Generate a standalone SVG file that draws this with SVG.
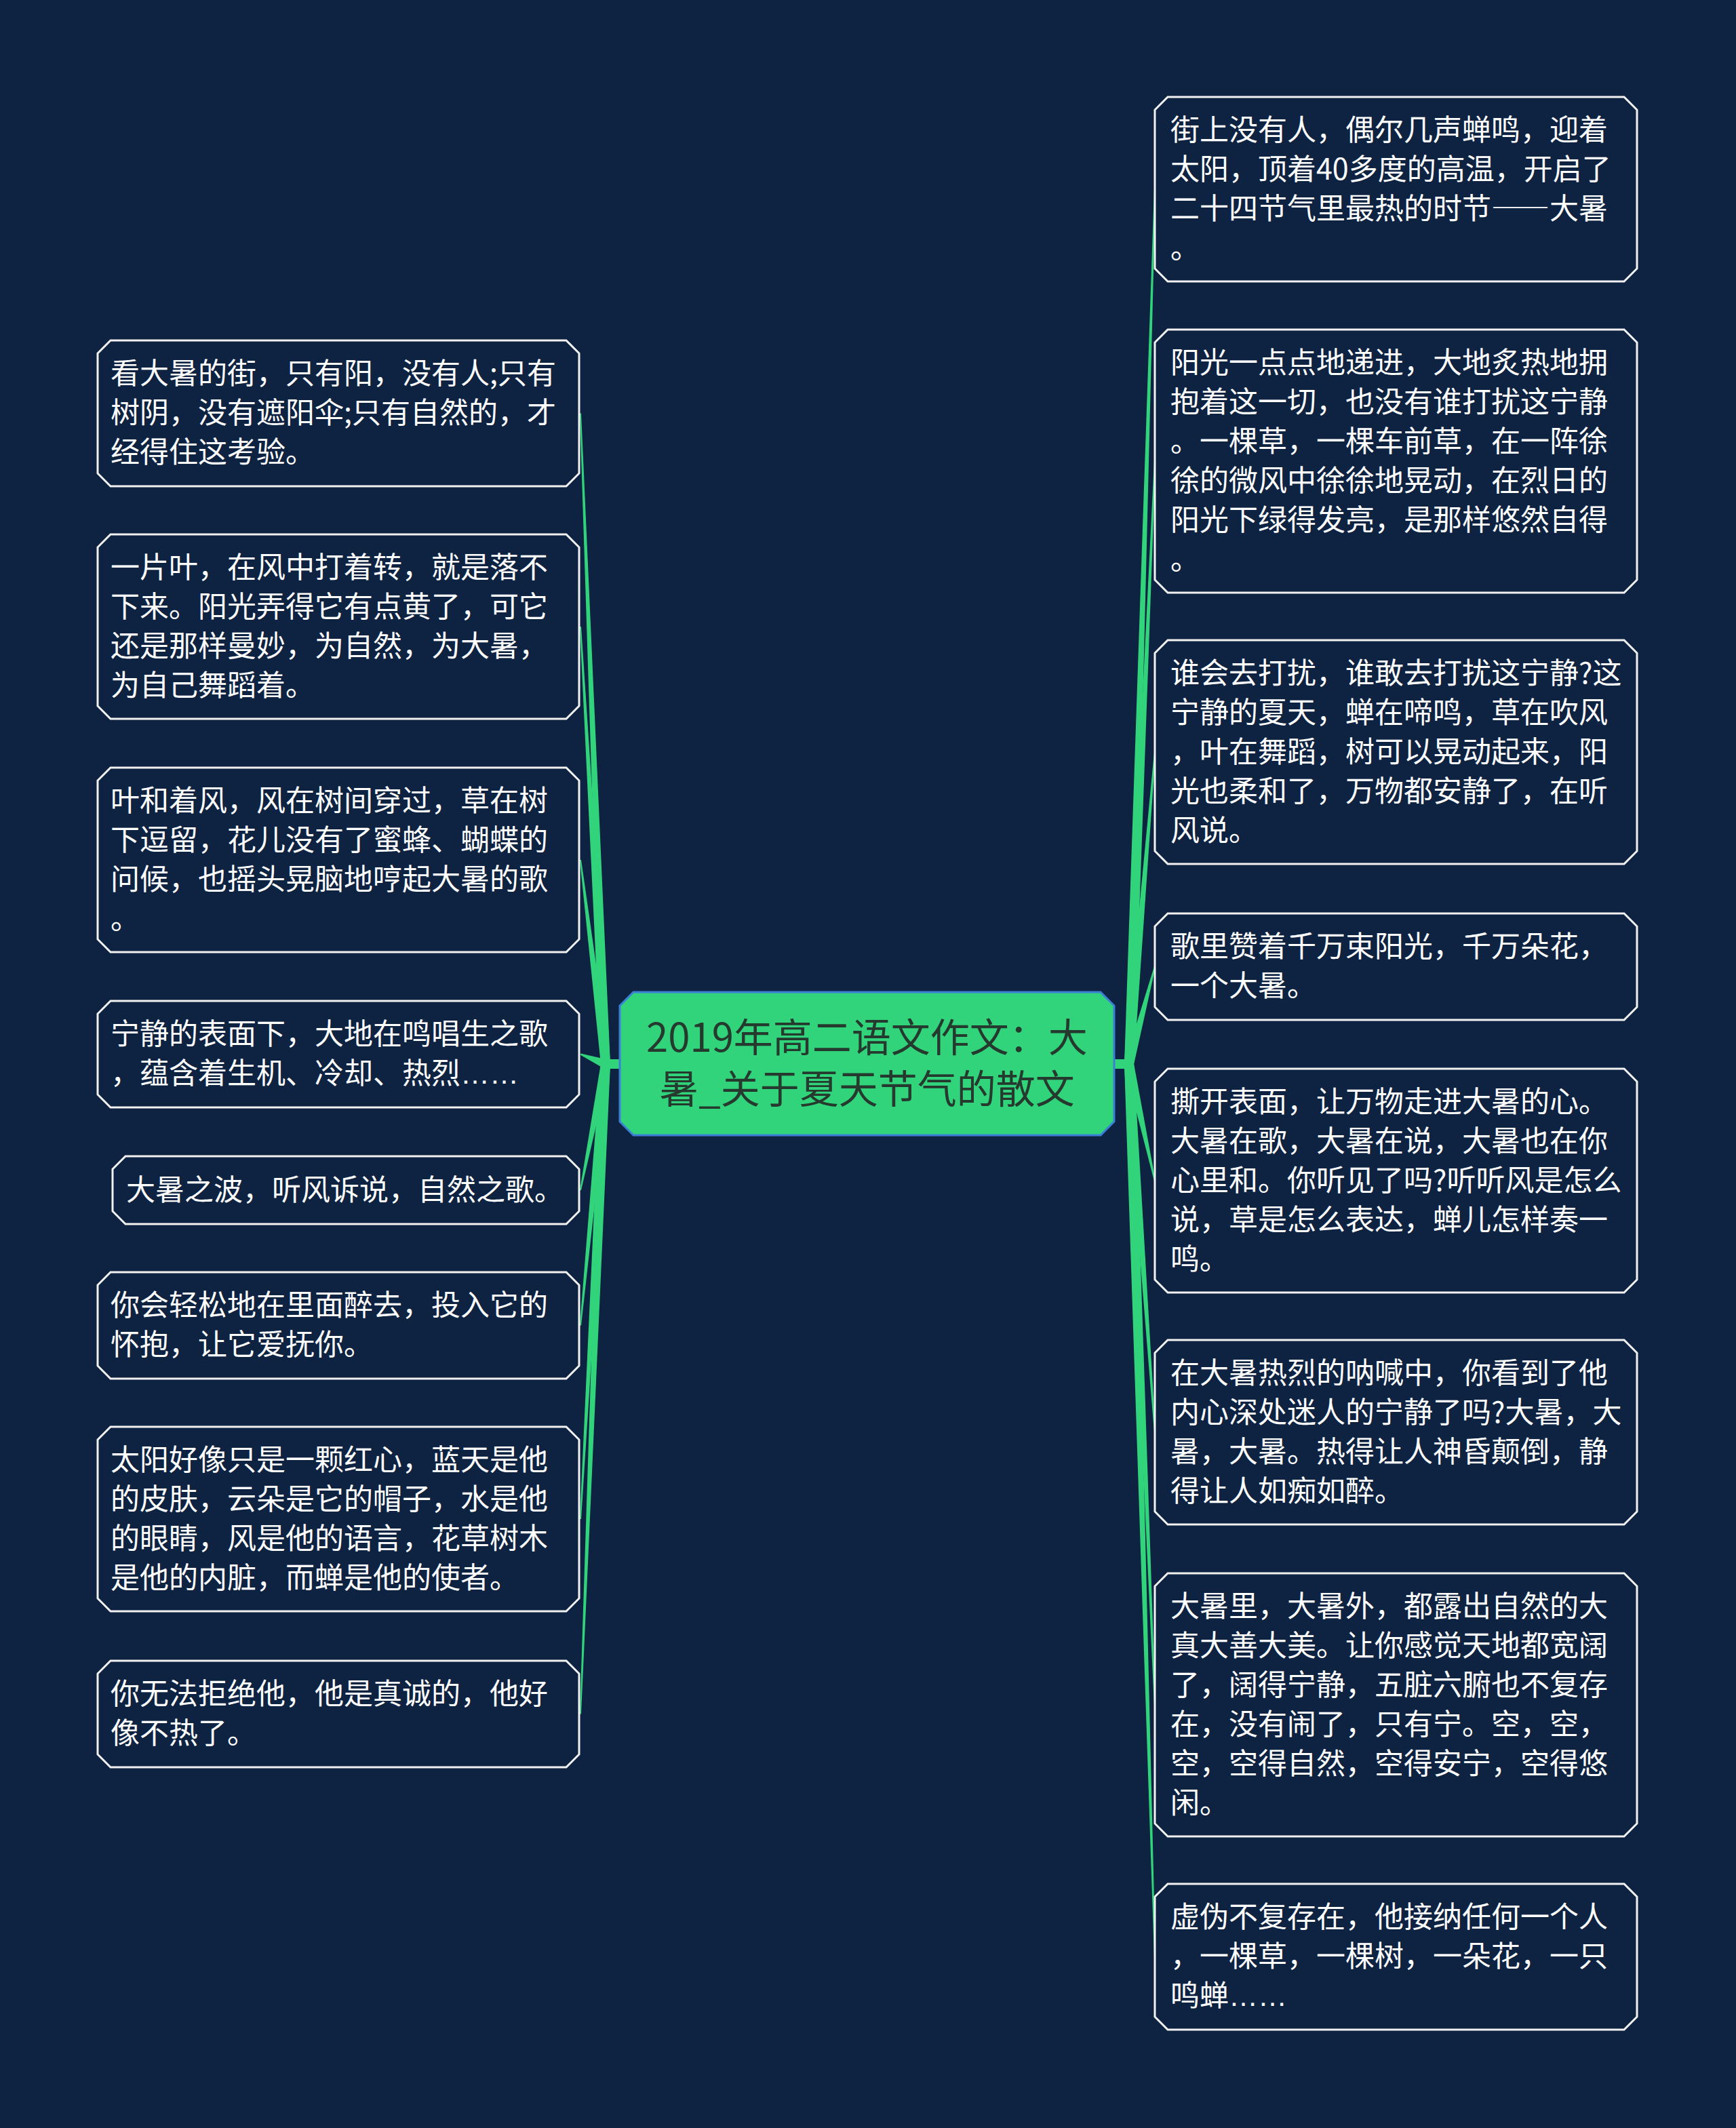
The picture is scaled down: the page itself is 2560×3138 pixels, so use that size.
<svg xmlns="http://www.w3.org/2000/svg" width="2560" height="3138" viewBox="0 0 2560 3138">
<style>
.bg{fill:#0e2341}
.leaf{fill:#0e2341;stroke:#f2f2f2;stroke-width:3}
.lt{font-family:"Noto Sans CJK SC","Noto Sans",sans-serif;font-size:43px;fill:#ffffff}
.root{fill:#31d47a;stroke:#3b7fd6;stroke-width:3}
.rt{font-family:"Noto Sans CJK SC","Noto Sans",sans-serif;font-size:58px;fill:#25392f;text-anchor:middle}
.cn{fill:#31d47a;stroke:none}
.fw{font-feature-settings:"fwid" 1}
.el{font-family:"Liberation Sans",sans-serif}
</style>
<rect class="bg" x="0" y="0" width="2560" height="3138"/>
<g id="connectors">
<rect class="cn" x="892" y="1562" width="24" height="14"/>
<rect class="cn" x="1641" y="1562" width="26" height="14"/>
<path class="cn" d="M899.99 1568.73 L857 609.46 L855 609.54 L886 1569.27 Z"/>
<path class="cn" d="M899.99 1568.6 L857 923.94 L855 924.06 L886.01 1569.4 Z"/>
<path class="cn" d="M899.95 1568.15 L856.99 1267.88 L855.01 1268.12 L886.05 1569.85 Z"/>
<path class="cn" d="M895.55 1562.48 L856.36 1553.57 L855.64 1555.43 L890.45 1575.52 Z"/>
<path class="cn" d="M886.13 1567.63 L855.02 1754.8 L856.98 1755.2 L899.87 1570.37 Z"/>
<path class="cn" d="M886.03 1568.33 L855 1954.4 L857 1954.6 L899.97 1569.67 Z"/>
<path class="cn" d="M886.01 1568.61 L855 2239.94 L857 2240.06 L899.99 1569.39 Z"/>
<path class="cn" d="M886 1568.73 L855 2527.46 L857 2527.54 L900 1569.27 Z"/>
<path class="cn" d="M1672 1569.21 L1704 279.03 L1702 278.97 L1658 1568.79 Z"/>
<path class="cn" d="M1671.99 1569.3 L1704 680.54 L1702 680.46 L1658.01 1568.7 Z"/>
<path class="cn" d="M1671.98 1569.58 L1704 1109.58 L1702 1109.42 L1658.02 1568.42 Z"/>
<path class="cn" d="M1671.77 1570.79 L1703.97 1425.76 L1702.03 1425.24 L1658.23 1567.21 Z"/>
<path class="cn" d="M1658.16 1570.51 L1702.02 1741.72 L1703.98 1741.28 L1671.84 1567.49 Z"/>
<path class="cn" d="M1658.02 1569.49 L1702 2112.07 L1704 2111.93 L1671.98 1568.51 Z"/>
<path class="cn" d="M1658.01 1569.28 L1702 2514.54 L1704 2514.46 L1671.99 1568.72 Z"/>
<path class="cn" d="M1658 1569.2 L1702 2885.53 L1704 2885.47 L1672 1568.8 Z"/>
</g>
<g id="root">
<path class="root" d="M934 1463 H1623 L1643 1483 V1654 L1623 1674 H934 L914 1654 V1483 Z"/>
<text class="rt" x="1278.5" y="1551">2019年高二语文作文：大</text>
<text class="rt" x="1278.5" y="1627">暑_关于夏天节气的散文</text>
</g>
<g id="L1">
<path class="leaf" d="M163 502 H835 L854 521 V698 L835 717 H163 L144 698 V521 Z"/>
<text class="lt" x="163" y="566">看大暑的街，只有阳，没有人;只有</text>
<text class="lt" x="163" y="624">树阴，没有遮阳伞;只有自然的，才</text>
<text class="lt" x="163" y="682">经得住这考验。</text>
</g>
<g id="L2">
<path class="leaf" d="M163 788 H835 L854 807 V1041 L835 1060 H163 L144 1041 V807 Z"/>
<text class="lt" x="163" y="852">一片叶，在风中打着转，就是落不</text>
<text class="lt" x="163" y="910">下来。阳光弄得它有点黄了，可它</text>
<text class="lt" x="163" y="968">还是那样曼妙，为自然，为大暑，</text>
<text class="lt" x="163" y="1026">为自己舞蹈着。</text>
</g>
<g id="L3">
<path class="leaf" d="M163 1132 H835 L854 1151 V1385 L835 1404 H163 L144 1385 V1151 Z"/>
<text class="lt" x="163" y="1196">叶和着风，风在树间穿过，草在树</text>
<text class="lt" x="163" y="1254">下逗留，花儿没有了蜜蜂、蝴蝶的</text>
<text class="lt" x="163" y="1312">问候，也摇头晃脑地哼起大暑的歌</text>
<text class="lt" x="163" y="1370">。</text>
</g>
<g id="L4">
<path class="leaf" d="M163 1476 H835 L854 1495 V1614 L835 1633 H163 L144 1614 V1495 Z"/>
<text class="lt" x="163" y="1540">宁静的表面下，大地在鸣唱生之歌</text>
<text class="lt" x="163" y="1598">，蕴含着生机、冷却、热烈<tspan class="el">……</tspan></text>
</g>
<g id="L5">
<path class="leaf" d="M185 1705 H835 L854 1724 V1786 L835 1805 H185 L166 1786 V1724 Z"/>
<text class="lt" x="186" y="1770">大暑之波，听风诉说，自然之歌。</text>
</g>
<g id="L6">
<path class="leaf" d="M163 1876 H835 L854 1895 V2014 L835 2033 H163 L144 2014 V1895 Z"/>
<text class="lt" x="163" y="1940">你会轻松地在里面醉去，投入它的</text>
<text class="lt" x="163" y="1998">怀抱，让它爱抚你。</text>
</g>
<g id="L7">
<path class="leaf" d="M163 2104 H835 L854 2123 V2357 L835 2376 H163 L144 2357 V2123 Z"/>
<text class="lt" x="163" y="2168">太阳好像只是一颗红心，蓝天是他</text>
<text class="lt" x="163" y="2226">的皮肤，云朵是它的帽子，水是他</text>
<text class="lt" x="163" y="2284">的眼睛，风是他的语言，花草树木</text>
<text class="lt" x="163" y="2342">是他的内脏，而蝉是他的使者。</text>
</g>
<g id="L8">
<path class="leaf" d="M163 2449 H835 L854 2468 V2587 L835 2606 H163 L144 2587 V2468 Z"/>
<text class="lt" x="163" y="2513">你无法拒绝他，他是真诚的，他好</text>
<text class="lt" x="163" y="2571">像不热了。</text>
</g>
<g id="R1">
<path class="leaf" d="M1722 143 H2395 L2414 162 V396 L2395 415 H1722 L1703 396 V162 Z"/>
<text class="lt" x="1726" y="207">街上没有人，偶尔几声蝉鸣，迎着</text>
<text class="lt" x="1726" y="265">太阳，顶着40多度的高温，开启了</text>
<text class="lt" x="1726" y="323">二十四节气里最热的时节<tspan class="fw">——</tspan>大暑</text>
<text class="lt" x="1726" y="381">。</text>
</g>
<g id="R2">
<path class="leaf" d="M1722 486 H2395 L2414 505 V855 L2395 874 H1722 L1703 855 V505 Z"/>
<text class="lt" x="1726" y="550">阳光一点点地递进，大地炙热地拥</text>
<text class="lt" x="1726" y="608">抱着这一切，也没有谁打扰这宁静</text>
<text class="lt" x="1726" y="666">。一棵草，一棵车前草，在一阵徐</text>
<text class="lt" x="1726" y="724">徐的微风中徐徐地晃动，在烈日的</text>
<text class="lt" x="1726" y="782">阳光下绿得发亮，是那样悠然自得</text>
<text class="lt" x="1726" y="840">。</text>
</g>
<g id="R3">
<path class="leaf" d="M1722 944 H2395 L2414 963 V1255 L2395 1274 H1722 L1703 1255 V963 Z"/>
<text class="lt" x="1726" y="1008">谁会去打扰，谁敢去打扰这宁静?这</text>
<text class="lt" x="1726" y="1066">宁静的夏天，蝉在啼鸣，草在吹风</text>
<text class="lt" x="1726" y="1124">，叶在舞蹈，树可以晃动起来，阳</text>
<text class="lt" x="1726" y="1182">光也柔和了，万物都安静了，在听</text>
<text class="lt" x="1726" y="1240">风说。</text>
</g>
<g id="R4">
<path class="leaf" d="M1722 1347 H2395 L2414 1366 V1485 L2395 1504 H1722 L1703 1485 V1366 Z"/>
<text class="lt" x="1726" y="1411">歌里赞着千万束阳光，千万朵花，</text>
<text class="lt" x="1726" y="1469">一个大暑。</text>
</g>
<g id="R5">
<path class="leaf" d="M1722 1576 H2395 L2414 1595 V1887 L2395 1906 H1722 L1703 1887 V1595 Z"/>
<text class="lt" x="1726" y="1640">撕开表面，让万物走进大暑的心。</text>
<text class="lt" x="1726" y="1698">大暑在歌，大暑在说，大暑也在你</text>
<text class="lt" x="1726" y="1756">心里和。你听见了吗?听听风是怎么</text>
<text class="lt" x="1726" y="1814">说，草是怎么表达，蝉儿怎样奏一</text>
<text class="lt" x="1726" y="1872">鸣。</text>
</g>
<g id="R6">
<path class="leaf" d="M1722 1976 H2395 L2414 1995 V2229 L2395 2248 H1722 L1703 2229 V1995 Z"/>
<text class="lt" x="1726" y="2040">在大暑热烈的呐喊中，你看到了他</text>
<text class="lt" x="1726" y="2098">内心深处迷人的宁静了吗?大暑，大</text>
<text class="lt" x="1726" y="2156">暑，大暑。热得让人神昏颠倒，静</text>
<text class="lt" x="1726" y="2214">得让人如痴如醉。</text>
</g>
<g id="R7">
<path class="leaf" d="M1722 2320 H2395 L2414 2339 V2689 L2395 2708 H1722 L1703 2689 V2339 Z"/>
<text class="lt" x="1726" y="2384">大暑里，大暑外，都露出自然的大</text>
<text class="lt" x="1726" y="2442">真大善大美。让你感觉天地都宽阔</text>
<text class="lt" x="1726" y="2500">了，阔得宁静，五脏六腑也不复存</text>
<text class="lt" x="1726" y="2558">在，没有闹了，只有宁。空，空，</text>
<text class="lt" x="1726" y="2616">空，空得自然，空得安宁，空得悠</text>
<text class="lt" x="1726" y="2674">闲。</text>
</g>
<g id="R8">
<path class="leaf" d="M1722 2778 H2395 L2414 2797 V2974 L2395 2993 H1722 L1703 2974 V2797 Z"/>
<text class="lt" x="1726" y="2842">虚伪不复存在，他接纳任何一个人</text>
<text class="lt" x="1726" y="2900">，一棵草，一棵树，一朵花，一只</text>
<text class="lt" x="1726" y="2958">鸣蝉<tspan class="el">……</tspan></text>
</g>
</svg>
